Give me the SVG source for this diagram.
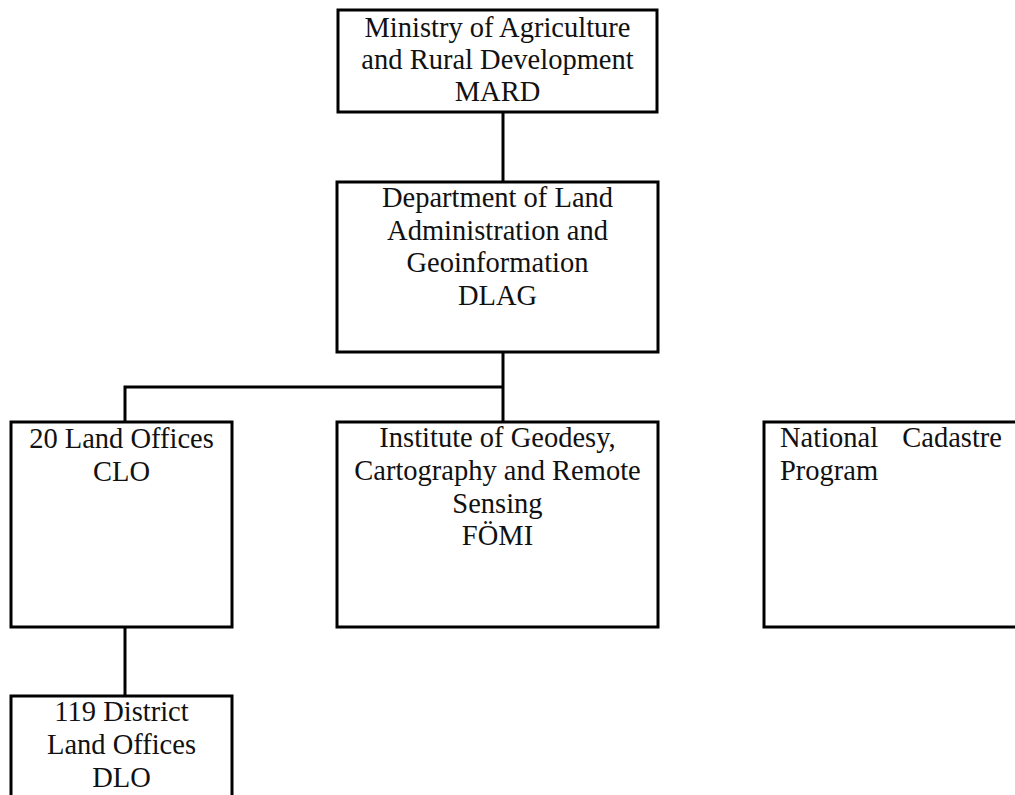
<svg xmlns="http://www.w3.org/2000/svg" width="1015" height="795" viewBox="0 0 1015 795">
<style>
.box{fill:#fff;stroke:#000;stroke-width:3}
.con{fill:none;stroke:#000;stroke-width:3}
text{font-family:"Liberation Serif","Times New Roman",serif;font-size:28.5px;fill:#111}
.c{text-anchor:middle}
</style>
<rect width="1015" height="795" fill="#fff"/>
<g id="connectors">
<line class="con" x1="503" y1="112" x2="503" y2="182"/>
<line class="con" x1="503" y1="352" x2="503" y2="422"/>
<polyline class="con" points="125,422 125,387 503,387"/>
<line class="con" x1="125" y1="627" x2="125" y2="696"/>
</g>
<g id="mard">
<rect class="box" x="338" y="10" width="319" height="102"/>
<text class="c" x="497.5" y="37">Ministry of Agriculture</text>
<text class="c" x="497.5" y="69">and Rural Development</text>
<text class="c" x="497.5" y="101">MARD</text>
</g>
<g id="dlag">
<rect class="box" x="337" y="182" width="321" height="170"/>
<text class="c" x="497.5" y="207">Department of Land</text>
<text class="c" x="497.5" y="239.5">Administration and</text>
<text class="c" x="497.5" y="272">Geoinformation</text>
<text class="c" x="497.5" y="304.5">DLAG</text>
</g>
<g id="clo">
<rect class="box" x="11" y="422" width="221" height="205"/>
<text class="c" x="121.5" y="448">20 Land Offices</text>
<text class="c" x="121.5" y="480.5">CLO</text>
</g>
<g id="fomi">
<rect class="box" x="337" y="422" width="321" height="205"/>
<text class="c" x="497.5" y="447">Institute of Geodesy,</text>
<text class="c" x="497.5" y="480">Cartography and Remote</text>
<text class="c" x="497.5" y="512.5">Sensing</text>
<text class="c" x="497.5" y="545">FÖMI</text>
</g>
<g id="ncp">
<rect class="box" x="764" y="422" width="270" height="205"/>
<text x="780" y="447">National</text>
<text x="1002" y="447" text-anchor="end">Cadastre</text>
<text x="780" y="479.5">Program</text>
</g>
<g id="dlo">
<rect class="box" x="11" y="696" width="221" height="120"/>
<text class="c" x="121.5" y="721">119 District</text>
<text class="c" x="121.5" y="754">Land Offices</text>
<text class="c" x="121.5" y="787">DLO</text>
</g>
</svg>
